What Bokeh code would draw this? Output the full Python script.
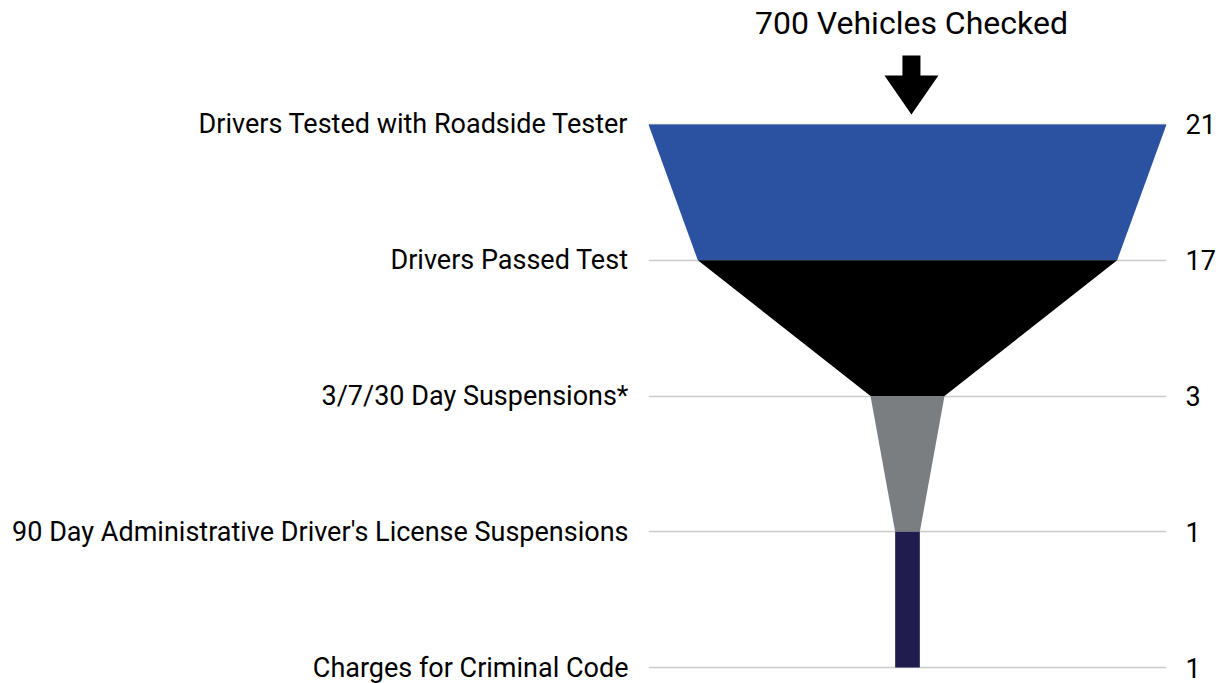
from bokeh.plotting import figure
from bokeh.models import Range1d, FixedTicker, LinearAxis, ColumnDataSource
from bokeh.core.properties import value
from bokeh.embed import file_html
from bokeh.resources import INLINE

stages = [
    "Drivers Tested with Roadside Tester",
    "Drivers Passed Test",
    "3/7/30 Day Suspensions*",
    "90 Day Administrative Driver's License Suspensions",
    "Charges for Criminal Code",
]
counts = [21, 17, 3, 1, 1]
segment_colors = ["#2b52a1", "#000000", "#7b7e80", "#201c4e"]
headline = "700 Vehicles Checked"

FONT = "Roboto"
ticks = list(range(len(stages)))

p = figure(
    width=1225, height=683,
    output_backend="svg", toolbar_location=None,
    x_range=Range1d(-10.5, 10.5),
    y_range=Range1d(4.0147, -0.9134),
    min_border_left=648, min_border_right=59,
    min_border_top=0, min_border_bottom=14,
)
p.outline_line_color = None
p.xaxis.visible = False
p.xgrid.visible = False

def style_axis(ax, standoff):
    ax.axis_line_color = None
    ax.major_tick_line_color = None
    ax.minor_tick_line_color = None
    ax.major_tick_out = 0
    ax.major_tick_in = 0
    ax.minor_tick_out = 0
    ax.minor_tick_in = 0
    ax.major_label_standoff = standoff
    ax.major_label_text_font = FONT
    ax.major_label_text_font_size = "27px"
    ax.major_label_text_color = "#000000"

# left axis: stage names
ya = p.yaxis[0]
ya.ticker = FixedTicker(ticks=ticks)
ya.major_label_overrides = {i: s for i, s in enumerate(stages)}
style_axis(ya, 20)

# right axis: counts
ra = LinearAxis(ticker=FixedTicker(ticks=ticks))
ra.major_label_overrides = {i: str(c) for i, c in enumerate(counts)}
style_axis(ra, 19)
p.add_layout(ra, "right")

p.ygrid.ticker = FixedTicker(ticks=ticks)
p.ygrid.grid_line_color = "#cccccc"
p.ygrid.grid_line_width = 1.5

# funnel segments
xs, ys = [], []
for i in range(len(counts) - 1):
    a, b = counts[i] / 2, counts[i + 1] / 2
    xs.append([-a, a, b, -b])
    ys.append([i, i, i + 1, i + 1])
src = ColumnDataSource(dict(xs=xs, ys=ys, color=segment_colors))
p.patches("xs", "ys", source=src, fill_color="color", line_color=None)

# headline and arrow
cx = 0.16
p.text(x=[cx], y=[-0.751], text=[headline], text_align="center",
       text_baseline="middle", text_font=value(FONT),
       text_font_size="32px", text_color="#000000")
p.patch(x=[cx - 0.365, cx + 0.365, cx + 0.365, cx + 1.095, cx, cx - 1.095, cx - 0.365],
        y=[-0.508, -0.508, -0.361, -0.361, -0.074, -0.361, -0.361],
        fill_color="#000000", line_color=None)

open("out.html", "w").write(file_html(p, INLINE))
